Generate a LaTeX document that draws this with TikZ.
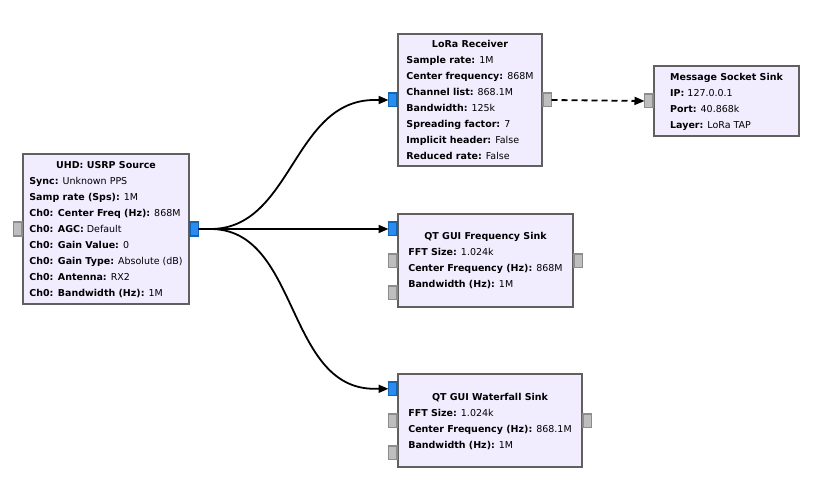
\documentclass[tikz,border=0pt]{standalone}
\usepackage{fontspec}
\setmainfont{DejaVu Sans}
\usetikzlibrary{%
  positioning
 ,arrows.meta
}
\definecolor{blockfill}{RGB}{241,237,255}
\definecolor{blockedge}{RGB}{96,96,96}
\definecolor{portgray}{RGB}{190,190,190}
\definecolor{portedge}{RGB}{140,140,140}
\definecolor{portblue}{RGB}{40,140,240}
\definecolor{portblueedge}{RGB}{20,100,180}
\tikzstyle{blk}=[rectangle,draw=blockedge,fill=blockfill,line width=2pt,inner sep=0pt,font=\fontsize{9.5}{16}\selectfont]
\tikzstyle{port}=[rectangle,draw=portedge,fill=portgray,line width=1.5pt,minimum width=8.5pt,minimum height=13.5pt,inner sep=0pt,outer sep=0pt]
\tikzstyle{sport}=[port,draw=portblueedge,fill=portblue]
\tikzstyle{conn}=[line width=1.8pt,-{Triangle[length=10pt,width=8pt]}]
\newcommand{\blktitle}[1]{\multicolumn{1}{@{}c@{}}{\bfseries #1}}
\newcommand{\prm}[2]{\textbf{#1:} #2}

\begin{document}
\begin{tikzpicture}[x=1pt,y=-1pt]
      \useasboundingbox (0,0) rectangle (828,492);
      % blocks
      \node[blk,minimum width=166pt,minimum height=150pt] (usrp) at (106,229)
        {\begin{tabular}{@{}l@{}}\blktitle{UHD: USRP Source}\\
         \prm{Sync}{Unknown PPS}\\ \prm{Samp rate (Sps)}{1M}\\
         \prm{Ch0: Center Freq (Hz)}{868M}\\ \prm{Ch0: AGC}{Default}\\
         \prm{Ch0: Gain Value}{0}\\ \prm{Ch0: Gain Type}{Absolute (dB)}\\
         \prm{Ch0: Antenna}{RX2}\\ \prm{Ch0: Bandwidth (Hz)}{1M}\end{tabular}};
      \node[blk,minimum width=144pt,minimum height=132pt] (lora) at (470,100)
        {\begin{tabular}{@{}l@{}}\blktitle{LoRa Receiver}\\
         \prm{Sample rate}{1M}\\ \prm{Center frequency}{868M}\\
         \prm{Channel list}{868.1M}\\ \prm{Bandwidth}{125k}\\
         \prm{Spreading factor}{7}\\ \prm{Implicit header}{False}\\
         \prm{Reduced rate}{False}\end{tabular}};
      \node[blk,minimum width=145pt,minimum height=70pt] (msg) at (726.5,101)
        {\begin{tabular}{@{}l@{}}\blktitle{Message Socket Sink}\\
         \prm{IP}{127.0.0.1}\\ \prm{Port}{40.868k}\\
         \prm{Layer}{LoRa TAP}\end{tabular}};
      \node[blk,minimum width=175pt,minimum height=93pt] (fsink) at (485.5,260.7)
        {\begin{tabular}{@{}l@{}}\blktitle{QT GUI Frequency Sink}\\
         \prm{FFT Size}{1.024k}\\ \prm{Center Frequency (Hz)}{868M}\\
         \prm{Bandwidth (Hz)}{1M}\end{tabular}};
      \node[blk,minimum width=184pt,minimum height=93pt] (wsink) at (490,420.8)
        {\begin{tabular}{@{}l@{}}\blktitle{QT GUI Waterfall Sink}\\
         \prm{FFT Size}{1.024k}\\ \prm{Center Frequency (Hz)}{868.1M}\\
         \prm{Bandwidth (Hz)}{1M}\end{tabular}};
      % ports
      \node[port,left=0pt of usrp] (usrp_in) {};
      \node[sport,right=0pt of usrp] (usrp_out) {};
      \node[sport,left=0pt of lora] (lora_in) {};
      \node[port,right=0pt of lora] (lora_out) {};
      \node[port,left=0pt of msg] (msg_in) {};
      \node[sport,left=0pt of fsink,yshift=32pt] (fsink_in0) {};
      \node[port,left=0pt of fsink] (fsink_in1) {};
      \node[port,left=0pt of fsink,yshift=-32pt] (fsink_in2) {};
      \node[port,right=0pt of fsink] (fsink_out) {};
      \node[sport,left=0pt of wsink,yshift=32pt] (wsink_in0) {};
      \node[port,left=0pt of wsink] (wsink_in1) {};
      \node[port,left=0pt of wsink,yshift=-32pt] (wsink_in2) {};
      \node[port,right=0pt of wsink] (wsink_out) {};
      % connections
      \draw[conn] (usrp_out.east) -- ++(12,0) to[out=0,in=180] ([xshift=-14pt]lora_in.west) -- (lora_in.west);
      \draw[conn] (usrp_out.east) -- (usrp_out.east -| fsink_in0.west);
      \draw[conn] (usrp_out.east) -- ++(12,0) to[out=0,in=180] ([xshift=-14pt]wsink_in0.west) -- (wsink_in0.west);
      \draw[conn,dash pattern=on 6pt off 4pt] (lora_out.east) -- (msg_in.west);
    \end{tikzpicture}
\end{document}
